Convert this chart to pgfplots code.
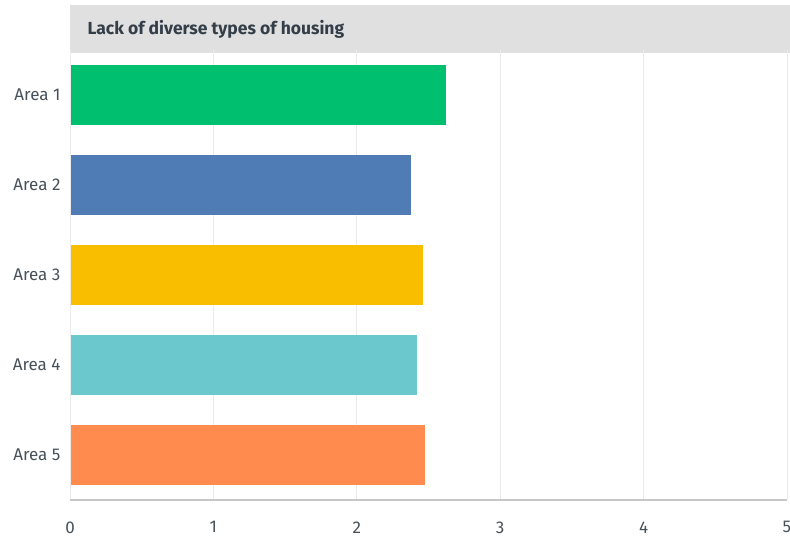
\documentclass[border=0pt]{standalone}
\usepackage{pgfplots}
\pgfplotsset{compat=1.18}
\usepackage{fontspec}
\setmainfont{Fira Sans}[Scale=1]
\definecolor{cgreen}{HTML}{00BF6F}
\definecolor{cblue}{HTML}{507CB6}
\definecolor{cyellow}{HTML}{F9BE00}
\definecolor{cteal}{HTML}{6BC8CD}
\definecolor{corange}{HTML}{FF8B4F}
\definecolor{txt}{HTML}{333E48}
\definecolor{gridc}{HTML}{EBEBEB}
\definecolor{titlebg}{HTML}{E0E0E0}
\begin{document}
\begin{tikzpicture}[x=1pt,y=1pt]
\path[use as bounding box] (0,0) rectangle (790,543);
\fill[titlebg] (70,490) rectangle (790,538);
\node[anchor=west,font=\fontsize{17.5}{21}\selectfont\bfseries,text=txt] at (84,514) {Lack of diverse types of housing};
\begin{axis}[
  at={(70pt,43pt)}, anchor=south west,
  scale only axis, width=717pt, height=450pt,
  xbar, bar width=60pt, bar shift=0pt,
  xmin=0, xmax=5, ymin=0.5, ymax=5.5, y dir=reverse,
  xtick={0,...,5}, ytick={1,...,5},
  yticklabels={Area 1,Area 2,Area 3,Area 4,Area 5},
  xmajorgrids, grid style={gridc, line width=1pt},
  axis line style={draw=none},
  axis x line*=bottom, axis y line*=left,
  major tick length=0pt,
  tick label style={font=\fontsize{17}{20}\selectfont, text=txt!90},
  /pgf/number format/assume math mode=true,
  xticklabel style={yshift=-18pt},
  yticklabel style={xshift=-6pt},
  clip=false,
]
\addplot[fill=cgreen, draw=none] coordinates {(2.623,1)};
\addplot[fill=cblue, draw=none] coordinates {(2.379,2)};
\addplot[fill=cyellow, draw=none] coordinates {(2.463,3)};
\addplot[fill=cteal, draw=none] coordinates {(2.421,4)};
\addplot[fill=corange, draw=none] coordinates {(2.477,5)};
\draw[gridc, line width=1pt] (axis cs:0,0.5) -- (axis cs:0,5.5);
\draw[black!22, line width=1.2pt] (axis cs:0,5.5) -- (axis cs:5,5.5);
\end{axis}
\end{tikzpicture}
\end{document}
